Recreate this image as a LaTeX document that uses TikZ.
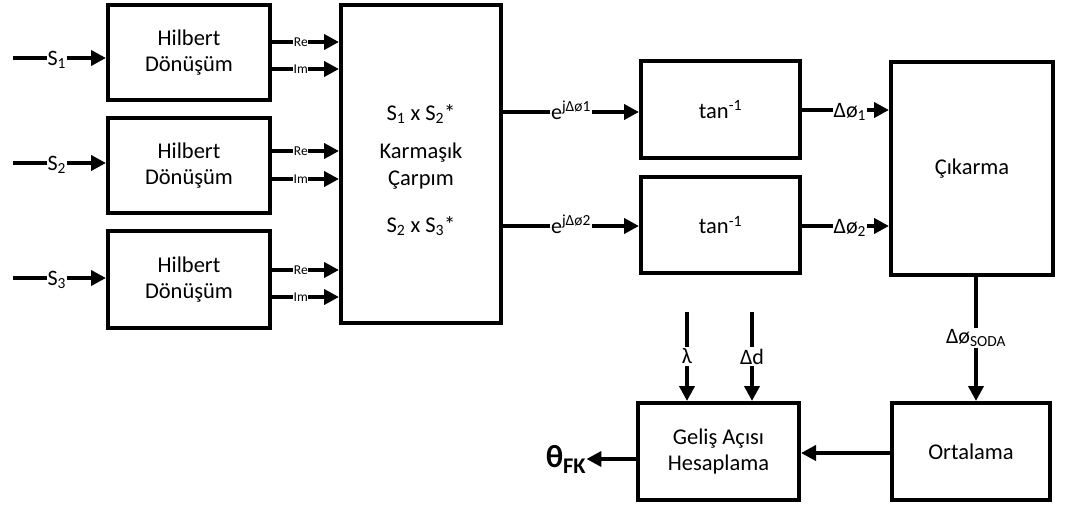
\documentclass[tikz,border=0pt]{standalone}
\usepackage{fontspec}
\setmainfont{Carlito}
\usetikzlibrary{arrows.meta}
\begin{document}
\begin{tikzpicture}[x=1pt,y=-1pt,
  box/.style={draw,line width=4pt,inner sep=0pt,align=center,font=\fontsize{22.5}{25.5}\selectfont},
  arr/.style={line width=4pt,-{Triangle[length=15pt,width=15pt]}},
  lab/.style={fill=white,inner sep=1pt,anchor=base,yshift=-7pt,font=\fontsize{22}{26}\selectfont},
  vlab/.style={fill=white,inner sep=1.5pt,font=\fontsize{22}{26}\selectfont},
  small/.style={fill=white,inner sep=0.5pt,anchor=base,yshift=-4pt,font=\fontsize{13.5}{15}\selectfont}]
\useasboundingbox (0,0) rectangle (1066,506);

% boxes
\node[box,minimum width=162pt,minimum height=95pt] (h1) at (189,52.5) {Hilbert\\Dönüşüm};
\node[box,minimum width=162pt,minimum height=95pt] (h2) at (189,165.5) {Hilbert\\Dönüşüm};
\node[box,minimum width=162pt,minimum height=97pt] (h3) at (189,279.5) {Hilbert\\Dönüşüm};
\node[box,minimum width=160pt,minimum height=318pt] (m) at (421,164) {};
\node[font=\fontsize{22.5}{26}\selectfont] (m1) at (421,114) {S\textsubscript{1} x S\textsubscript{2}*};
\node[font=\fontsize{22.5}{26.5}\selectfont,align=center] (m2) at (421,166) {Karmaşık\\Çarpım};
\node[font=\fontsize{22.5}{26}\selectfont] (m3) at (421,226) {S\textsubscript{2} x S\textsubscript{3}*};
\node[box,minimum width=159pt,minimum height=97pt] (t1) at (720.5,109.5) {tan\textsuperscript{-1}};
\node[box,minimum width=159pt,minimum height=96pt] (t2) at (720.5,225) {tan\textsuperscript{-1}};
\node[box,minimum width=162pt,minimum height=213pt] (c) at (972,168.5) {Çıkarma};
\node[box,minimum width=158pt,minimum height=97pt] (o) at (971,451.5) {Ortalama};
\node[box,minimum width=161pt,minimum height=97pt] (g) at (718.5,451.5) {Geliş Açısı\\Hesaplama};
\node[font=\fontsize{32}{34}\bfseries\selectfont,inner sep=0pt] (th) at (566,459) {θ\textsubscript{FK}};

% helper coordinates
\coordinate (s1) at (13,58);
\coordinate (s2) at (13,163);
\coordinate (s3) at (13,278);
\coordinate (r1) at (0,42);  \coordinate (i1) at (0,69);
\coordinate (r2) at (0,151); \coordinate (i2) at (0,179);
\coordinate (r3) at (0,270); \coordinate (i3) at (0,297);
\coordinate (e1) at (0,112); \coordinate (e2) at (0,226);
\coordinate (d1) at (0,110); \coordinate (d2) at (0,226);
\coordinate (lam) at (687,312);
\coordinate (dd) at (752,312);
\coordinate (yo) at (0,453);
\coordinate (yt) at (0,459);

% inputs
\draw[arr] (s1) -- node[lab,pos=0.47]{S\textsubscript{1}} (h1.west |- s1);
\draw[arr] (s2) -- node[lab,pos=0.47]{S\textsubscript{2}} (h2.west |- s2);
\draw[arr] (s3) -- node[lab,pos=0.47]{S\textsubscript{3}} (h3.west |- s3);

% Re / Im
\draw[arr] (h1.east |- r1) -- node[small,pos=0.43]{Re} (m.west |- r1);
\draw[arr] (h1.east |- i1) -- node[small,pos=0.43]{Im} (m.west |- i1);
\draw[arr] (h2.east |- r2) -- node[small,pos=0.43]{Re} (m.west |- r2);
\draw[arr] (h2.east |- i2) -- node[small,pos=0.43]{Im} (m.west |- i2);
\draw[arr] (h3.east |- r3) -- node[small,pos=0.43]{Re} (m.west |- r3);
\draw[arr] (h3.east |- i3) -- node[small,pos=0.43]{Im} (m.west |- i3);

% products to tan
\draw[arr] (m.east |- e1) -- node[lab,pos=0.5]{e\textsuperscript{jΔø1}} (t1.west |- e1);
\draw[arr] (m.east |- e2) -- node[lab,pos=0.5]{e\textsuperscript{jΔø2}} (t2.west |- e2);

% tan to subtraction
\draw[arr] (t1.east |- d1) -- node[lab,pos=0.55]{Δø\textsubscript{1}} (c.west |- d1);
\draw[arr] (t2.east |- d2) -- node[lab,pos=0.55]{Δø\textsubscript{2}} (c.west |- d2);

% subtraction to averaging
\draw[arr] ([xshift=4pt]c.south) -- node[vlab,pos=0.49]{Δø\textsubscript{SODA}} ([xshift=5pt]o.north);

% averaging to angle computation
\draw[arr] (o.west |- yo) -- (g.east |- yo);

% lambda and delta d
\draw[arr] (lam) -- node[vlab,pos=0.5]{λ} (g.north -| lam);
\draw[arr] (dd) -- node[vlab,pos=0.5]{Δd} (g.north -| dd);

% output
\draw[arr] (g.west |- yt) -- (th.east |- yt);
\end{tikzpicture}
\end{document}
